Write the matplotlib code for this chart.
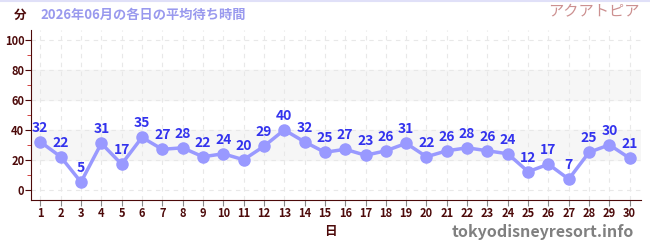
import matplotlib
matplotlib.use('Agg')
import matplotlib.pyplot as plt
from matplotlib.ticker import MultipleLocator

plt.rcParams['font.family'] = ['Noto Sans CJK JP', 'DejaVu Sans']

# data
days = list(range(1, 31))
wait = [32, 22, 5, 31, 17, 35, 27, 28, 22, 24, 20, 29, 40, 32, 25,
        27, 23, 26, 31, 22, 26, 28, 26, 24, 12, 17, 7, 25, 30, 21]
title = '2026年06月の各日の平均待ち時間'
attraction = 'アクアトピア'

axis_col = '#4d0a0a'
line_col = '#9999ff'
label_col = '#3333ee'

fig = plt.figure(figsize=(6.5, 2.5), dpi=100)
ax = fig.add_axes([0.048, 0.2, 0.938, 0.68])

# shaded bands
for lo, hi in [(20, 40), (60, 80)]:
    ax.axhspan(lo, hi, color='#f6f6f6', zorder=0)

ax.plot(days, wait, color=line_col, lw=2.5, marker='o', ms=8, zorder=3)
for d, v in zip(days, wait):
    ax.annotate(str(v), (d, v), xytext=(0, 5), textcoords='offset points',
                ha='center', va='bottom', color=label_col,
                fontsize=10, fontweight='bold', zorder=4)

ax.set_xlim(0.55, 30.55)
ax.set_ylim(-7, 107)
ax.set_xticks(days)
ax.yaxis.set_major_locator(MultipleLocator(20))
ax.yaxis.set_minor_locator(MultipleLocator(10))
ax.grid(which='major', color='#e8e8e8', ls=(0, (4, 4)), lw=0.8, zorder=1)

for s in ['top', 'right']:
    ax.spines[s].set_visible(False)
for s in ['left', 'bottom']:
    ax.spines[s].set_color(axis_col)
ax.tick_params(axis='both', which='major', colors=axis_col, labelsize=8,
               length=4, pad=1)
ax.tick_params(axis='x', which='major', color='#888888')
ax.tick_params(axis='y', which='minor', colors='#cc2222', length=3)
for lab in ax.get_xticklabels() + ax.get_yticklabels():
    lab.set_fontweight('bold')

fig.text(20 / 650, 1 - 15 / 250, '分', color=axis_col, fontsize=9,
         fontweight='bold', ha='center', va='center')
fig.text(40 / 650, 1 - 15 / 250, title, color='#9999ee', fontsize=9.5,
         fontweight='bold', ha='left', va='center')
fig.text(640 / 650, 1 - 12 / 250, attraction, color='#cc9090', fontsize=11,
         ha='right', va='center')
fig.text(330 / 650, 1 - 232 / 250, '日', color=axis_col, fontsize=9,
         fontweight='bold', ha='center', va='center')
fig.text(634 / 650, 1 - 232 / 250, 'tokyodisneyresort.info', color='#808080',
         fontsize=11.5, fontweight='bold', ha='right', va='center')
fig.add_artist(plt.Line2D([0, 1], [0.998, 0.998], color='#e0e0f8', lw=1.5,
                          transform=fig.transFigure))

fig.savefig('out.png', dpi=100)
